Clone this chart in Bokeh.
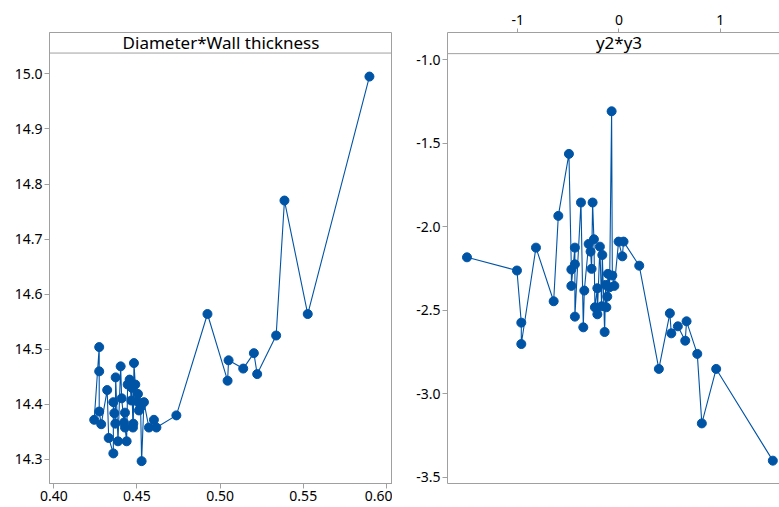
import numpy as np
from bokeh.plotting import figure
from bokeh.models import Range1d, FixedTicker, Span, Label, LinearAxis, NumeralTickFormatter
from bokeh.layouts import row
from bokeh.embed import file_html
from bokeh.resources import INLINE

# ---------------- data ----------------
left_title = "Diameter*Wall thickness"
wall_thickness = [0.4243, 0.4273, 0.4273, 0.4273, 0.4285, 0.4321, 0.4330, 0.4358, 0.4358, 0.4364,
                  0.4370, 0.4372, 0.4386, 0.4402, 0.4408, 0.4422, 0.4428, 0.4428, 0.4438, 0.4444,
                  0.4456, 0.4466, 0.4470, 0.4476, 0.4478, 0.4482, 0.4490, 0.4502, 0.4506, 0.4512,
                  0.4522, 0.4528, 0.4542, 0.4572, 0.4602, 0.4617, 0.4737, 0.4924, 0.5045, 0.5051,
                  0.5139, 0.5203, 0.5223, 0.5337, 0.5387, 0.5527, 0.5898]
diameter = [14.372, 14.504, 14.460, 14.387, 14.364, 14.426, 14.339, 14.311, 14.404, 14.384,
            14.365, 14.449, 14.333, 14.469, 14.411, 14.367, 14.385, 14.358, 14.333, 14.436,
            14.445, 14.407, 14.430, 14.358, 14.365, 14.475, 14.436, 14.405, 14.419, 14.389,
            14.395, 14.297, 14.404, 14.358, 14.372, 14.358, 14.380, 14.564, 14.443, 14.480,
            14.465, 14.493, 14.455, 14.525, 14.770, 14.564, 14.995]
left_x_ticks = [0.40, 0.45, 0.50, 0.55, 0.60]
left_y_ticks = [14.3, 14.4, 14.5, 14.6, 14.7, 14.8, 14.9, 15.0]

right_title = "y2*y3"
y3 = [-1.503, -1.009, -0.966, -0.966, -0.821, -0.646, -0.600, -0.495, -0.471, -0.471,
      -0.436, -0.436, -0.436, -0.376, -0.353, -0.343, -0.300, -0.281, -0.271, -0.261,
      -0.248, -0.238, -0.214, -0.214, -0.189, -0.172, -0.165, -0.142, -0.132, -0.125,
      -0.116, -0.110, -0.093, -0.073, -0.066, -0.046, -0.004, 0.033, 0.045, 0.200,
      0.394, 0.503, 0.517, 0.582, 0.655, 0.668, 0.774, 0.819, 0.961, 1.521]
y2 = [-2.184, -2.263, -2.575, -2.703, -2.126, -2.447, -1.936, -1.565, -2.257, -2.355,
      -2.126, -2.226, -2.539, -1.856, -2.603, -2.383, -2.104, -2.150, -2.253, -1.856,
      -2.076, -2.483, -2.369, -2.525, -2.120, -2.477, -2.170, -2.631, -2.349, -2.483,
      -2.419, -2.283, -2.363, -1.310, -2.293, -2.355, -2.090, -2.178, -2.090, -2.234,
      -2.852, -2.519, -2.639, -2.597, -2.683, -2.567, -2.762, -3.178, -2.852, -3.401]
right_x_ticks = [-1, 0, 1]
right_y_ticks = [-1.0, -1.5, -2.0, -2.5, -3.0, -3.5]

# ---------------- style ----------------
BLUE = "#0054A6"
GRAY = "#a0a0a0"
FONT = "Noto Sans"
TICK_FS = "14px"
TITLE_FS = "17px"


def style_axis(ax, tick_out, standoff):
    ax.axis_line_color = GRAY
    ax.major_tick_line_color = GRAY
    ax.minor_tick_line_color = None
    ax.major_tick_in = 0
    ax.major_tick_out = tick_out
    ax.major_label_standoff = standoff
    ax.major_label_text_font = FONT
    ax.major_label_text_font_size = TICK_FS
    ax.major_label_text_color = "#000000"


def base_fig(width, xr, yr, left_border, xloc):
    p = figure(width=width, height=507, x_range=xr, y_range=yr,
               output_backend="svg", toolbar_location=None, x_axis_location=xloc,
               min_border_left=left_border, min_border_right=0,
               min_border_top=32, min_border_bottom=24)
    p.grid.visible = False
    p.background_fill_color = "white"
    p.border_fill_color = "white"
    return p


# ---------------- left panel ----------------
ox = np.argsort(wall_thickness, kind="stable")
lx = np.array(wall_thickness)[ox]
ly = np.array(diameter)[ox]

p1 = base_fig(392, Range1d(0.39741, 0.60367), Range1d(14.2564, 15.075), 49, "below")
p1.outline_line_color = GRAY
p1.line(lx, ly, line_color=BLUE, line_width=1.1)
p1.scatter(lx, ly, size=9, fill_color=BLUE, line_color=BLUE)
p1.xaxis.ticker = FixedTicker(ticks=left_x_ticks)
p1.xaxis.formatter = NumeralTickFormatter(format="0.00")
p1.yaxis.ticker = FixedTicker(ticks=left_y_ticks)
p1.yaxis.formatter = NumeralTickFormatter(format="0.0")
style_axis(p1.xaxis[0], 5, 2)
style_axis(p1.yaxis[0], 5, 2)
p1.add_layout(Span(location=15.0377, dimension="width", line_color=GRAY, line_width=1))
p1.add_layout(Label(x=0.50054, y=15.0568, text=left_title, text_align="center",
                    text_baseline="middle", text_font=FONT, text_font_size=TITLE_FS,
                    text_color="#000000"))

# ---------------- right panel ----------------
orr = np.argsort(y3, kind="stable")
rx = np.array(y3)[orr]
ry = np.array(y2)[orr]

p2 = base_fig(387, Range1d(-1.6957, 1.5870), Range1d(-3.5377, -0.8384), 55, "above")
p2.outline_line_color = None
p2.line(rx, ry, line_color=BLUE, line_width=1.1)
p2.scatter(rx, ry, size=9, fill_color=BLUE, line_color=BLUE)
p2.xaxis.ticker = FixedTicker(ticks=right_x_ticks)
p2.xaxis.formatter = NumeralTickFormatter(format="0")
p2.yaxis.ticker = FixedTicker(ticks=right_y_ticks)
p2.yaxis.formatter = NumeralTickFormatter(format="0.0")
style_axis(p2.xaxis[0], 4, 4)
style_axis(p2.yaxis[0], 5, 2)
bottom_edge = LinearAxis(ticker=FixedTicker(ticks=[]), axis_line_color=GRAY,
                         major_tick_line_color=None, minor_tick_line_color=None,
                         major_label_text_font_size="0px")
p2.add_layout(bottom_edge, "below")
p2.add_layout(Span(location=-0.9650, dimension="width", line_color=GRAY, line_width=1))
p2.add_layout(Label(x=0.0, y=-0.8983, text=right_title, text_align="center",
                    text_baseline="middle", text_font=FONT, text_font_size=TITLE_FS,
                    text_color="#000000"))

layout = row(p1, p2)
open("out.html", "w").write(file_html(layout, INLINE))
